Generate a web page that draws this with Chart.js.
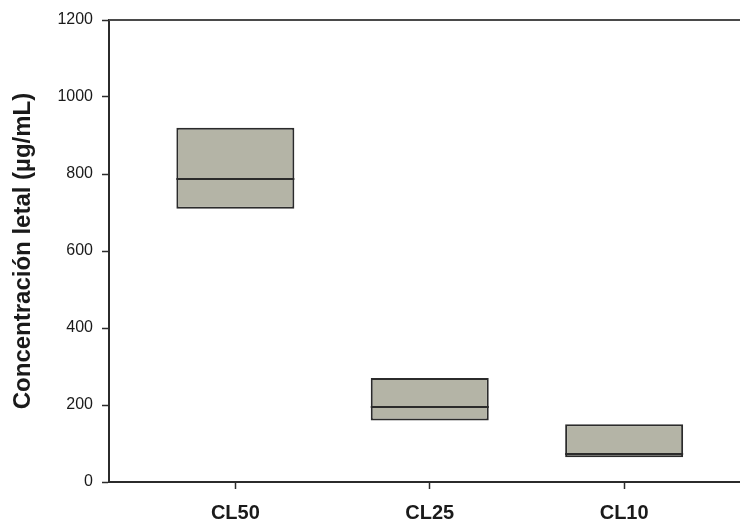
<!DOCTYPE html>
<html>
<head>
<meta charset="utf-8">
<script src="https://cdn.jsdelivr.net/npm/chart.js@4/dist/chart.umd.min.js"></script>
<style>
  html, body { margin: 0; padding: 0; background: #fff; overflow: hidden; }
  #wrap { position: relative; width: 752px; height: 521px; }
</style>
</head>
<body>
<div id="wrap"><canvas id="c"></canvas></div>
<script>
// Lethal concentration ranges (µg/mL): lower bound, median, upper bound
const categories = ['CL50', 'CL25', 'CL10'];
const lower  = [710, 160, 64];
const median = [787, 195, 74];
const upper  = [920, 270, 150];
const yTicks = [0, 200, 400, 600, 800, 1000, 1200];

const ink = '#2b2b2b';
const fontFamily = 'Liberation Sans, Arial, sans-serif';

// Draws the median line across each box and the top frame line
const boxExtras = {
  id: 'boxExtras',
  afterDatasetsDraw(chart) {
    const ctx = chart.ctx;
    const y = chart.scales.y;
    const meta = chart.getDatasetMeta(0);
    ctx.save();
    ctx.strokeStyle = ink;
    ctx.lineWidth = 2;
    meta.data.forEach((bar, i) => {
      const py = Math.round(y.getPixelForValue(median[i]));
      ctx.beginPath();
      ctx.moveTo(bar.x - bar.width / 2, py);
      ctx.lineTo(bar.x + bar.width / 2, py);
      ctx.stroke();
    });
    const a = chart.chartArea;
    ctx.strokeStyle = '#4a4a4a';
    ctx.lineWidth = 2;
    ctx.beginPath();
    ctx.moveTo(a.left, a.top);
    ctx.lineTo(a.right, a.top);
    ctx.stroke();
    ctx.restore();
  }
};

new Chart(document.getElementById('c'), {
  type: 'bar',
  data: {
    datasets: [{
      data: categories.map((c, i) => ({ x: i + 1, y: [lower[i], upper[i]] })),
      backgroundColor: '#b4b4a6',
      borderColor: ink,
      borderWidth: 2,
      borderSkipped: false,
      categoryPercentage: 1,
      barPercentage: 0.607
    }]
  },
  options: {
    responsive: true,
    maintainAspectRatio: false,
    animation: false,
    layout: { padding: { top: 20, right: 1.5, left: 0, bottom: 0 } },
    plugins: { legend: { display: false }, tooltip: { enabled: false } },
    scales: {
      x: {
        type: 'linear',
        offset: false,
        min: 0.35,
        max: 3.65,
        afterBuildTicks(scale) { scale.ticks = categories.map((c, i) => ({ value: i + 1 })); },
        afterFit(scale) { scale.height = 39; },
        ticks: {
          callback: (v) => categories[v - 1],
          color: '#1a1a1a',
          font: { family: fontFamily, size: 20, weight: 'bold' },
          padding: 12,
          maxRotation: 0,
          autoSkip: false
        },
        grid: { offset: false, drawOnChartArea: false, tickLength: 7, color: ink, tickWidth: 1.5 },
        border: { color: ink, width: 2 }
      },
      y: {
        min: 0,
        max: 1200,
        afterBuildTicks(scale) { scale.ticks = yTicks.map(v => ({ value: v })); },
        afterFit(scale) { scale.width = 109; },
        ticks: {
          callback: (v) => String(v),
          color: '#1a1a1a',
          font: { family: fontFamily, size: 16 },
          padding: 9
        },
        grid: { drawOnChartArea: false, tickLength: 7, color: ink, tickWidth: 1.5 },
        border: { color: ink, width: 2 },
        title: {
          display: true,
          text: 'Concentración letal (µg/mL)',
          color: '#1a1a1a',
          font: { family: fontFamily, size: 24, weight: 'bold' },
          padding: { top: 9, bottom: 0 }
        }
      }
    }
  },
  plugins: [boxExtras]
});
</script>
</body>
</html>
